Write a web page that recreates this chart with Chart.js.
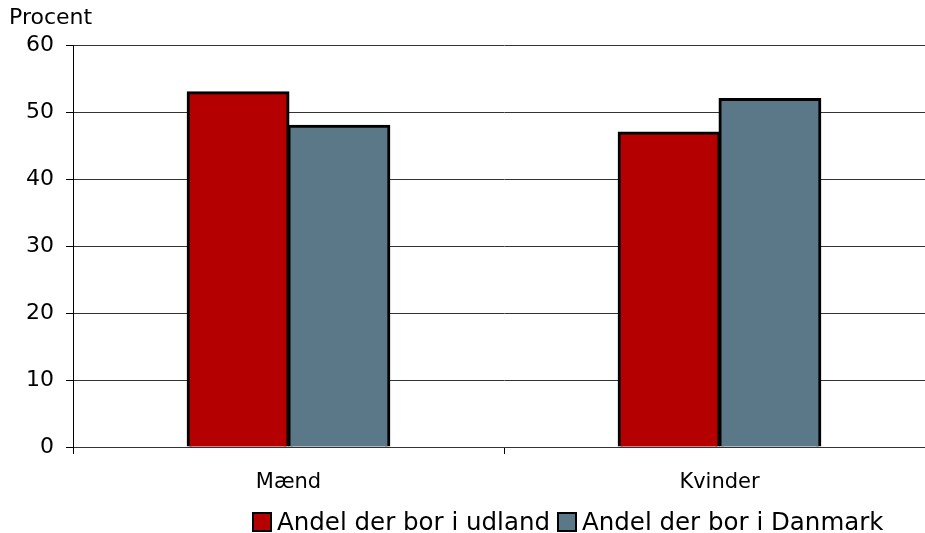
<!DOCTYPE html>
<html lang="da">
  <head>
    <meta charset="UTF-8" />
    <title>Andel der bor i udland</title>
    <style>
      html, body {
        margin: 0;
        padding: 0;
        overflow: hidden;
        background: #fff;
      }
      .wrap {
        position: relative;
        width: 925px;
        height: 533px;
        overflow: hidden;
      }
      #legend {
        position: absolute;
        left: 252px;
        top: 510px;
        display: flex;
        font-family: "DejaVu Sans", Verdana, sans-serif;
        font-size: 24.5px;
        line-height: 24px;
        color: #000;
        white-space: nowrap;
      }
      .item {
        display: flex;
        align-items: center;
        margin-right: 7px;
      }
      .box {
        width: 16px;
        height: 16px;
        border: 2px solid #000;
        margin-right: 5px;
      }
    </style>
  </head>
  <body>
    <div class="wrap">
      <canvas id="chart" width="936" height="533"></canvas>
      <div id="legend"></div>
    </div>

    <script src="https://cdn.jsdelivr.net/npm/chart.js"></script>

    <script>
      const categories = ["Mænd", "Kvinder"];
      const seriesNames = ["Andel der bor i udland", "Andel der bor i Danmark"];
      const udland = [53, 47];
      const danmark = [48, 52];
      const colors = ["#b40000", "#5b7889"];

      const font = "'DejaVu Sans', Verdana, sans-serif";

      const ctx = document.getElementById("chart").getContext("2d");

      const chart = new Chart(ctx, {
        type: "bar",
        data: {
          labels: categories,
          datasets: [
            {
              label: seriesNames[0],
              data: udland,
              backgroundColor: colors[0],
              borderColor: "#000",
              borderWidth: 3,
              inflateAmount: 1,
            },
            {
              label: seriesNames[1],
              data: danmark,
              backgroundColor: colors[1],
              borderColor: "#000",
              borderWidth: 3,
              inflateAmount: 1,
            },
          ],
        },
        options: {
          responsive: false,
          animation: false,
          barPercentage: 1,
          categoryPercentage: 0.468,
          layout: {
            padding: { left: 9, right: 1, top: 0, bottom: 0 },
          },
          plugins: {
            legend: { display: false },
            tooltip: { enabled: false },
            title: {
              display: true,
              text: "Procent",
              align: "start",
              color: "#000",
              font: { family: font, size: 22, weight: "normal" },
              padding: { top: 5, bottom: 14 },
            },
          },
          scales: {
            x: {
              offset: true,
              afterFit: (scale) => {
                scale.height = 86;
              },
              grid: {
                offset: true,
                drawOnChartArea: false,
                drawTicks: true,
                tickLength: 7,
                tickColor: "#000",
              },
              border: { color: "#333", width: 1 },
              ticks: {
                color: "#000",
                padding: 16,
                font: { family: font, size: 21 },
              },
            },
            y: {
              min: 0,
              max: 60,
              afterFit: (scale) => {
                scale.width = 64;
              },
              grid: {
                color: "#333",
                lineWidth: 1,
                tickLength: 7,
                tickColor: "#000",
              },
              border: { color: "#000", width: 1 },
              ticks: {
                stepSize: 10,
                color: "#000",
                padding: 12,
                font: { family: font, size: 22 },
              },
            },
          },
        },
      });

      // legend as html so it can sit where the original has it
      const legendEl = document.getElementById("legend");
      chart.data.datasets.forEach((ds) => {
        const item = document.createElement("div");
        item.className = "item";
        const box = document.createElement("span");
        box.className = "box";
        box.style.background = ds.backgroundColor;
        const txt = document.createElement("span");
        txt.textContent = ds.label;
        item.appendChild(box);
        item.appendChild(txt);
        legendEl.appendChild(item);
      });
    </script>
  </body>
</html>
